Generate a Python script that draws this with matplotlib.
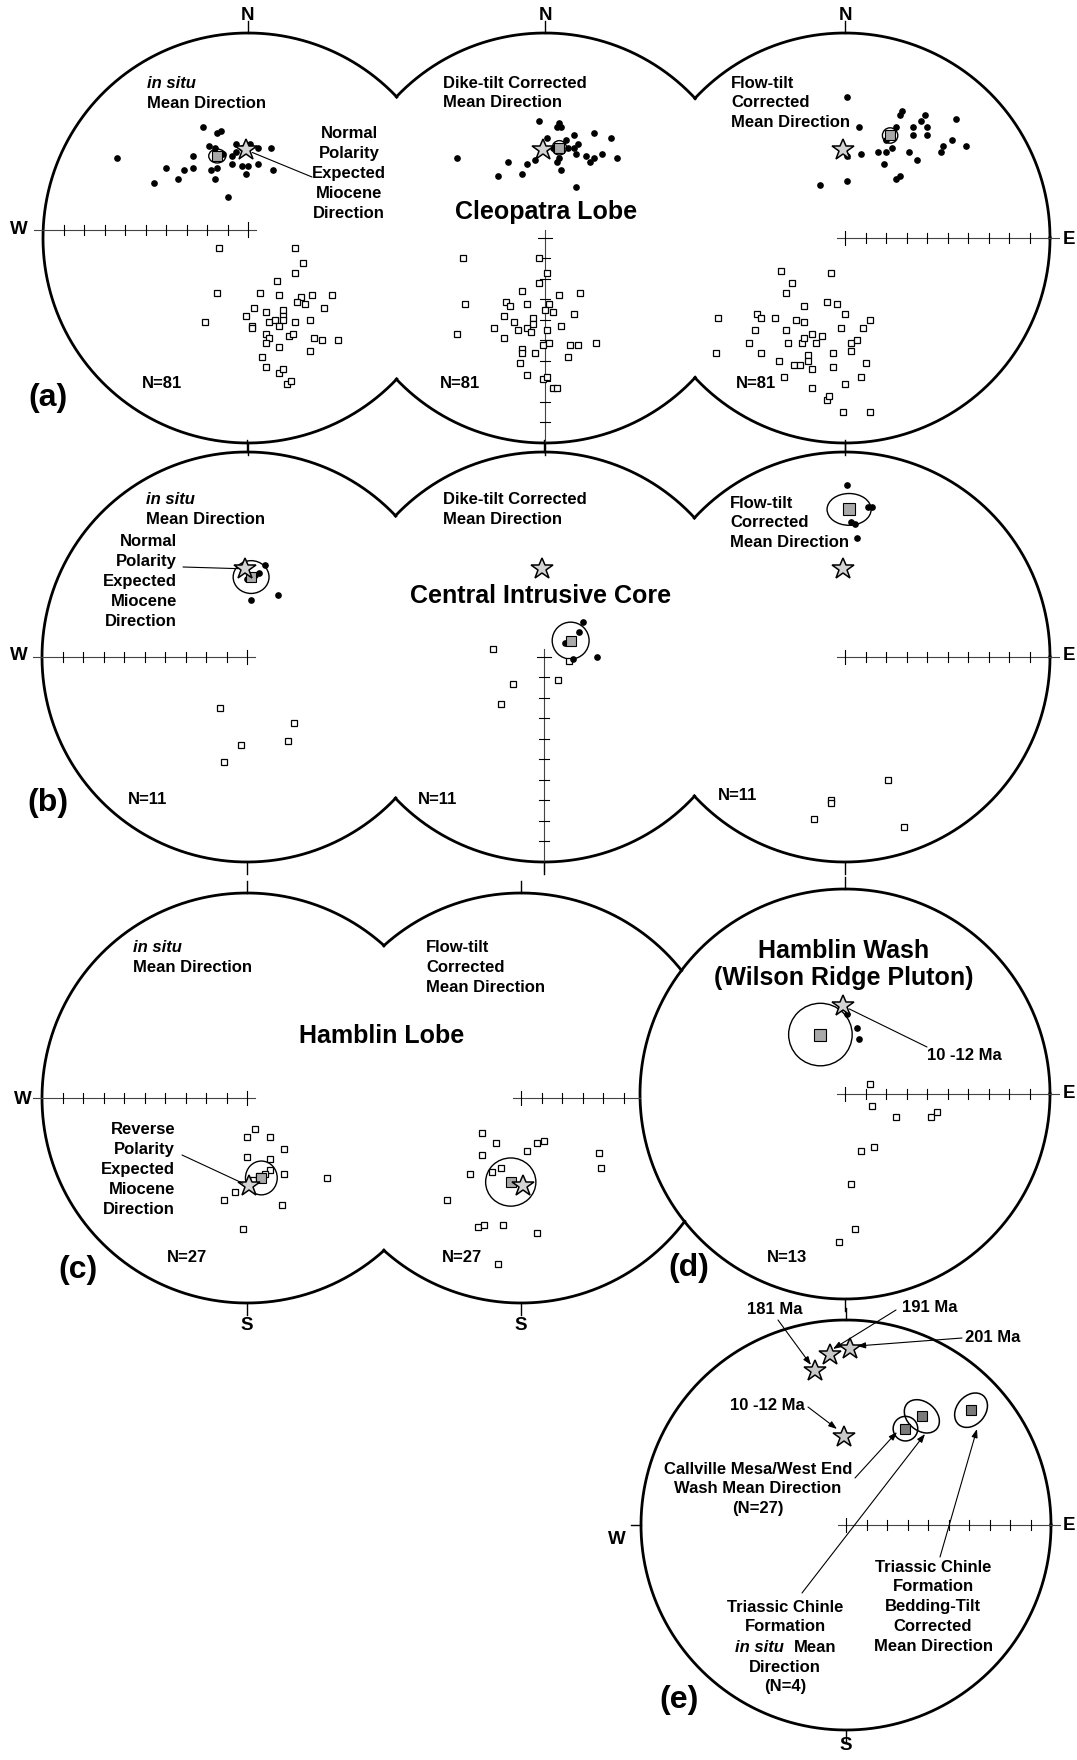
import numpy as np
import matplotlib.pyplot as plt
from matplotlib.patches import Ellipse
from matplotlib.transforms import Affine2D

plt.rcParams['font.family'] = ['Liberation Sans', 'DejaVu Sans']
plt.rcParams['font.weight'] = 'bold'

# directions in equal-area net coordinates (east, north), 1 = primitive circle
# filled dots = lower hemisphere, open squares = upper hemisphere
expected_normal = (-0.01, 0.43)
expected_reverse = (0.01, -0.43)

# (a) Cleopatra Lobe, N=81
a_insitu_lower = [(-0.64, 0.39), (-0.22, 0.54), (-0.15, 0.51), (-0.13, 0.52), (-0.19, 0.45),
                  (-0.16, 0.44), (-0.27, 0.40), (-0.40, 0.34), (-0.27, 0.34), (-0.31, 0.33),
                  (-0.46, 0.27), (-0.34, 0.29), (-0.18, 0.33), (-0.15, 0.34), (-0.16, 0.29),
                  (-0.10, 0.20), (-0.06, 0.46), (-0.03, 0.44), (0.01, 0.46), (0.05, 0.44),
                  (0.11, 0.44), (-0.08, 0.40), (-0.08, 0.36), (-0.03, 0.35), (0.00, 0.35),
                  (-0.01, 0.31), (0.05, 0.36), (0.12, 0.33), (-0.06, 0.42), (-0.12, 0.41)]
a_insitu_upper = [(-0.14, -0.05), (0.23, -0.05), (0.27, -0.12), (0.23, -0.17), (0.14, -0.21),
                  (-0.15, -0.27), (0.06, -0.27), (0.15, -0.28), (0.31, -0.28), (0.41, -0.28),
                  (0.26, -0.29), (0.24, -0.31), (0.28, -0.32), (0.03, -0.34), (0.17, -0.35),
                  (0.37, -0.34), (0.09, -0.36), (-0.01, -0.38), (0.17, -0.38), (-0.21, -0.41),
                  (0.10, -0.41), (0.13, -0.40), (0.17, -0.40), (0.23, -0.41), (0.30, -0.40),
                  (0.15, -0.43), (0.02, -0.43), (0.02, -0.44), (0.09, -0.47), (0.10, -0.49),
                  (0.20, -0.48), (0.22, -0.47), (0.32, -0.49), (0.36, -0.50), (0.44, -0.50),
                  (0.09, -0.51), (0.15, -0.53), (0.30, -0.55), (0.07, -0.58), (0.09, -0.63),
                  (0.15, -0.66), (0.17, -0.64), (0.19, -0.71), (0.21, -0.70)]
a_insitu_mean = (-0.15, 0.40)
a_insitu_a95 = (0.083, 0.068)

a_dike_lower = [(-0.03, 0.57), (0.07, 0.56), (0.06, 0.54), (0.08, 0.54), (-0.43, 0.39),
                (-0.23, 0.30), (-0.18, 0.37), (-0.11, 0.31), (-0.09, 0.36), (-0.05, 0.38),
                (0.01, 0.49), (0.10, 0.48), (0.14, 0.50), (0.24, 0.51), (0.32, 0.49),
                (0.06, 0.37), (0.07, 0.39), (0.08, 0.33), (0.11, 0.44), (0.14, 0.44),
                (0.16, 0.46), (0.15, 0.41), (0.20, 0.40), (0.24, 0.39), (0.22, 0.37),
                (0.28, 0.41), (0.35, 0.39), (0.15, 0.25), (0.04, 0.44)]
a_dike_upper = [(-0.40, -0.10), (-0.03, -0.10), (0.01, -0.17), (-0.03, -0.22), (-0.11, -0.26),
                (0.07, -0.28), (0.17, -0.27), (-0.39, -0.32), (-0.19, -0.31), (-0.17, -0.33),
                (-0.09, -0.32), (0.02, -0.32), (0.00, -0.35), (0.04, -0.36), (0.14, -0.37),
                (-0.20, -0.38), (-0.15, -0.41), (-0.06, -0.39), (-0.06, -0.42), (-0.25, -0.44),
                (-0.13, -0.45), (-0.09, -0.44), (-0.07, -0.46), (0.01, -0.45), (0.08, -0.43),
                (-0.43, -0.47), (-0.20, -0.49), (-0.01, -0.52), (0.02, -0.51), (0.12, -0.52),
                (0.16, -0.52), (0.25, -0.51), (-0.11, -0.54), (-0.11, -0.56), (-0.05, -0.56),
                (0.11, -0.58), (-0.12, -0.61), (-0.09, -0.67), (-0.01, -0.69), (0.01, -0.68),
                (0.04, -0.73), (0.06, -0.73)]
a_dike_mean = (0.07, 0.44)
a_dike_a95 = (0.07, 0.07)

a_flow_lower = [(0.01, 0.69), (0.07, 0.54), (0.28, 0.62), (0.27, 0.60), (0.37, 0.57),
                (0.39, 0.60), (0.40, 0.54), (0.33, 0.54), (0.33, 0.50), (0.40, 0.50),
                (0.54, 0.58), (0.25, 0.54), (0.52, 0.48), (0.48, 0.45), (0.59, 0.45),
                (0.47, 0.42), (0.23, 0.44), (0.20, 0.42), (0.16, 0.42), (0.08, 0.41),
                (0.01, 0.40), (0.31, 0.42), (0.35, 0.38), (0.19, 0.36), (0.25, 0.29),
                (0.27, 0.30), (0.01, 0.28), (-0.12, 0.26), (0.20, 0.48)]
a_flow_upper = [(-0.31, -0.16), (-0.07, -0.17), (-0.26, -0.22), (-0.29, -0.27), (-0.20, -0.33),
                (-0.09, -0.31), (-0.04, -0.32), (0.00, -0.37), (-0.62, -0.39), (-0.43, -0.37),
                (-0.41, -0.39), (-0.34, -0.39), (-0.24, -0.40), (-0.20, -0.41), (0.12, -0.40),
                (-0.44, -0.45), (-0.29, -0.45), (-0.02, -0.44), (0.09, -0.44), (-0.47, -0.51),
                (-0.28, -0.51), (-0.21, -0.51), (-0.20, -0.49), (-0.16, -0.47), (-0.14, -0.51),
                (-0.11, -0.48), (0.03, -0.51), (0.06, -0.50), (-0.63, -0.56), (-0.41, -0.56),
                (-0.18, -0.57), (-0.18, -0.60), (-0.06, -0.56), (0.03, -0.55), (-0.32, -0.60),
                (-0.25, -0.62), (-0.22, -0.62), (-0.16, -0.64), (-0.06, -0.63), (0.10, -0.61),
                (-0.30, -0.68), (0.08, -0.68), (0.00, -0.71), (-0.16, -0.73), (-0.09, -0.79),
                (-0.08, -0.77), (-0.01, -0.85), (0.12, -0.85)]
a_flow_mean = (0.22, 0.50)
a_flow_a95 = (0.075, 0.075)

# (b) Central Intrusive Core, N=11
b_insitu_lower = [(0.09, 0.45), (0.06, 0.41), (0.00, 0.38), (0.02, 0.28), (0.15, 0.30), (0.04, 0.40)]
b_insitu_upper = [(-0.13, -0.25), (0.23, -0.32), (0.20, -0.41), (-0.03, -0.43), (-0.11, -0.51)]
b_insitu_mean = (0.02, 0.39)
b_insitu_a95 = (0.175, 0.16)

b_dike_lower = [(0.19, 0.17), (0.17, 0.12), (0.10, 0.07), (0.14, -0.01), (0.26, 0.00), (0.12, 0.09)]
b_dike_upper = [(-0.25, 0.04), (-0.15, -0.13), (-0.21, -0.23), (0.07, -0.11), (0.12, -0.02)]
b_dike_mean = (0.13, 0.08)
b_dike_a95 = (0.18, 0.18)

b_flow_lower = [(0.01, 0.84), (0.11, 0.73), (0.13, 0.73), (0.03, 0.66), (0.05, 0.65), (0.06, 0.58)]
b_flow_upper = [(0.21, -0.60), (-0.07, -0.70), (-0.07, -0.71), (-0.15, -0.79), (0.29, -0.83)]
b_flow_mean = (0.02, 0.72)
b_flow_a95 = (0.215, 0.155)

# (c) Hamblin Lobe, N=27
c_insitu_upper = [(0.00, -0.19), (0.04, -0.15), (0.11, -0.19), (0.18, -0.25), (0.00, -0.29),
                  (0.11, -0.30), (0.11, -0.35), (0.18, -0.37), (0.03, -0.40), (-0.06, -0.46),
                  (-0.11, -0.50), (0.17, -0.52), (0.39, -0.39), (-0.02, -0.64), (0.06, -0.38),
                  (0.09, -0.37)]
c_insitu_mean = (0.07, -0.39)
c_insitu_a95 = (0.155, 0.165)

c_flow_upper = [(-0.19, -0.17), (-0.12, -0.22), (-0.19, -0.28), (0.03, -0.26), (0.08, -0.22),
                (0.11, -0.21), (0.38, -0.27), (0.39, -0.34), (-0.25, -0.37), (-0.14, -0.36),
                (-0.10, -0.34), (-0.36, -0.50), (-0.21, -0.63), (-0.18, -0.62), (-0.09, -0.62),
                (0.08, -0.66), (-0.11, -0.81)]
c_flow_mean = (-0.05, -0.41)
c_flow_a95 = (0.245, 0.235)

# (d) Hamblin Wash (Wilson Ridge Pluton), N=13
d_lower = [(0.01, 0.39), (0.06, 0.32), (0.07, 0.27)]
d_upper = [(0.12, 0.05), (0.13, -0.06), (0.25, -0.11), (0.42, -0.11), (0.45, -0.09),
           (0.14, -0.26), (0.08, -0.28), (0.03, -0.44), (0.05, -0.66), (-0.03, -0.72)]
d_mean = (-0.12, 0.29)
d_a95 = (0.31, 0.305)

# (e) reference poles and mean directions
e_star_labels = ['181 Ma', '191 Ma', '201 Ma', '10 -12 Ma']
e_stars = [(-0.15, 0.75), (-0.08, 0.83), (0.02, 0.86), (-0.01, 0.43)]
e_means = [(0.29, 0.47), (0.37, 0.53), (0.61, 0.56)]      # Callville, Chinle in situ, Chinle corrected
e_a95 = [(0.12, 0.12, 0), (0.19, 0.14, -40), (0.185, 0.14, 50)]

R = 205
FS = 12
fig = plt.figure(figsize=(10.77, 17.6), dpi=100)
ax = fig.add_axes([0, 0, 1, 1])
ax.set_xlim(0, 1077)
ax.set_ylim(1760, 0)
ax.axis('off')

centers = {'a1': (248, 238), 'a2': (545, 238), 'a3': (845, 238),
           'b1': (247, 657), 'b2': (544, 657), 'b3': (845, 657),
           'c1': (247, 1098), 'c2': (521, 1098), 'd': (845, 1094),
           'e': (846, 1525)}
hidden_by = {'a1': ['a2'], 'a2': ['a1', 'a3'], 'a3': ['a2'],
             'b1': ['b2'], 'b2': ['b1', 'b3'], 'b3': ['b2'],
             'c1': ['c2'], 'c2': ['c1', 'd'], 'd': [], 'e': []}


def net_tr(key):
    cx, cy = centers[key]
    return Affine2D().scale(R, -R).translate(cx, cy) + ax.transData


def outline(key):
    cx, cy = centers[key]
    t = np.linspace(0, 2 * np.pi, 3000)
    x = cx + R * np.cos(t)
    y = cy + R * np.sin(t)
    hide = np.zeros(t.size, bool)
    for o in hidden_by[key]:
        ox, oy = centers[o]
        hide |= np.hypot(x - ox, y - oy) < R - 0.5
    x[hide] = np.nan
    ax.plot(x, y, color='k', lw=2.0)


def half_axis(key, d, length=1.0, off=(0.0, 0.0)):
    tr = net_tr(key)
    dx, dy = d
    px, py = -dy, dx
    ox, oy = off
    end = length + 0.045 if length >= 1 else length
    ax.plot([ox - 0.04 * dx, ox + end * dx], [oy - 0.04 * dy, oy + end * dy],
            color='#444444', lw=0.8, transform=tr)
    for k in range(0, 10):
        s = k / 10
        if s > length:
            break
        h = 0.036 if k == 0 else 0.025
        ax.plot([ox + s * dx - h * px, ox + s * dx + h * px],
                [oy + s * dy - h * py, oy + s * dy + h * py], color='k', lw=0.8, transform=tr)


def ns_ticks(key, west=False):
    tr = net_tr(key)
    ax.plot([0, 0], [1, 1.06], color='k', lw=1.0, transform=tr)
    ax.plot([0, 0], [-1, -1.06], color='k', lw=1.0, transform=tr)
    if west:
        ax.plot([-1, -1.05], [0, 0], color='k', lw=1.0, transform=tr)


def net_data(key, lower=(), upper=(), mean=None, a95=None, star=None, ms_mean=6.5):
    tr = net_tr(key)
    if len(upper):
        u = np.array(upper)
        ax.plot(u[:, 0], u[:, 1], 's', ms=4.2, mfc='white', mec='k', mew=0.9, transform=tr)
    if len(lower):
        lo = np.array(lower)
        ax.plot(lo[:, 0], lo[:, 1], 'o', ms=3.8, color='k', transform=tr)
    if a95 is not None:
        ax.add_patch(Ellipse(mean, a95[0], a95[1], fill=False, lw=1.0, ec='k', transform=tr))
    if mean is not None:
        ax.plot(*mean, 's', ms=ms_mean, mfc='#a9a9a9', mec='k', mew=0.8, transform=tr)
    if star is not None:
        ax.plot(*star, '*', ms=16.5, mfc='#d4d4d4', mec='k', mew=1.1, transform=tr)


def lines(x, y0, rows, ha='left', step=19.8, size=FS, style='normal'):
    for i, r in enumerate(rows):
        ax.text(x, y0 + i * step, r, ha=ha, va='center', fontsize=size, fontstyle=style)


def leader(key, xy, x0, y0, shrink=5):
    ax.annotate('', xy=xy, xycoords=net_tr(key), xytext=(x0, y0), textcoords='data',
                arrowprops=dict(arrowstyle='-', lw=0.8, color='k', shrinkA=0, shrinkB=shrink))


for k in centers:
    outline(k)

# axes with ticks
half_axis('a1', (-1, 0), off=(0, 0.04))
half_axis('a2', (0, -1))
half_axis('a3', (1, 0))
half_axis('b1', (-1, 0))
half_axis('b2', (0, -1))
half_axis('b3', (1, 0))
half_axis('c1', (-1, 0))
half_axis('c2', (1, 0), length=0.58)
half_axis('d', (1, 0))
half_axis('e', (1, 0))
for k in centers:
    ns_ticks(k, west=(k == 'e'))

# data
net_data('a1', a_insitu_lower, a_insitu_upper, a_insitu_mean, a_insitu_a95, expected_normal)
net_data('a2', a_dike_lower, a_dike_upper, a_dike_mean, a_dike_a95, expected_normal)
net_data('a3', a_flow_lower, a_flow_upper, a_flow_mean, a_flow_a95, expected_normal)
net_data('b1', b_insitu_lower, b_insitu_upper, b_insitu_mean, b_insitu_a95, expected_normal, 7)
net_data('b2', b_dike_lower, b_dike_upper, b_dike_mean, b_dike_a95, expected_normal, 7.5)
net_data('b3', b_flow_lower, b_flow_upper, b_flow_mean, b_flow_a95, expected_normal, 8.5)
net_data('c1', (), c_insitu_upper, c_insitu_mean, c_insitu_a95, expected_reverse, 6.5)
net_data('c2', (), c_flow_upper, c_flow_mean, c_flow_a95, expected_reverse, 7.5)
net_data('d', d_lower, d_upper, d_mean, d_a95, expected_normal, 9)

tr_e = net_tr('e')
for (w, h, ang), m in zip(e_a95, e_means):
    ax.add_patch(Ellipse(m, w, h, angle=ang, fill=False, lw=1.1, ec='k', transform=tr_e))
em = np.array(e_means)
ax.plot(em[:, 0], em[:, 1], 's', ms=6.5, mfc='#7a7a7a', mec='k', mew=0.8, transform=tr_e)
es = np.array(e_stars)
ax.plot(es[:, 0], es[:, 1], '*', ms=16.5, mfc='#c8c8c8', mec='k', mew=1.1, transform=tr_e)

# compass letters
for k in ['a1', 'a2', 'a3']:
    ax.text(centers[k][0], 16, 'N', ha='center', va='center', fontsize=13.5)
for y in [230, 656]:
    ax.text(19, y, 'W', ha='center', va='center', fontsize=13.5)
ax.text(23, 1099, 'W', ha='center', va='center', fontsize=13.5)
for y in [240, 656, 1094, 1525]:
    ax.text(1069, y, 'E', ha='center', va='center', fontsize=13.5)
ax.text(617, 1540, 'W', ha='center', va='center', fontsize=13.5)
for x in [247, 521]:
    ax.text(x, 1326, 'S', ha='center', va='center', fontsize=13.5)
ax.text(846, 1746, 'S', ha='center', va='center', fontsize=13.5)

# titles
ax.text(546, 212, 'Cleopatra Lobe', ha='center', va='center', fontsize=18)
ax.text(541, 596, 'Central Intrusive Core', ha='center', va='center', fontsize=18)
ax.text(382, 1036, 'Hamblin Lobe', ha='center', va='center', fontsize=18)
ax.text(844, 951, 'Hamblin Wash', ha='center', va='center', fontsize=18)
ax.text(844, 978, '(Wilson Ridge Pluton)', ha='center', va='center', fontsize=18)

# panel letters
for lab, x, y in [('(a)', 48, 398), ('(b)', 48, 803), ('(c)', 78, 1270),
                  ('(d)', 689, 1268), ('(e)', 679, 1700)]:
    ax.text(x, y, lab, ha='center', va='center', fontsize=23)

# panel annotations
pol = ['Polarity', 'Expected', 'Miocene', 'Direction']
lines(147, 83, ['in situ'], style='italic')
lines(147, 103, ['Mean Direction'])
lines(349, 134, ['Normal'] + pol, ha='center')
leader('a1', expected_normal, 312, 177)
lines(443, 83, ['Dike-tilt Corrected', 'Mean Direction'])
lines(731, 83, ['Flow-tilt', 'Corrected', 'Mean Direction'])
for x in [142, 440, 736]:
    lines(x, 383, ['N=81'])

lines(146, 500, ['in situ'], style='italic')
lines(146, 520, ['Mean Direction'])
lines(177, 542, ['Normal'] + pol, ha='right')
leader('b1', expected_normal, 183, 567)
lines(443, 500, ['Dike-tilt Corrected', 'Mean Direction'])
lines(730, 503, ['Flow-tilt', 'Corrected', 'Mean Direction'])
for x, y in [(128, 799), (418, 799), (718, 796)]:
    lines(x, y, ['N=11'])

lines(133, 947, ['in situ'], style='italic')
lines(133, 967, ['Mean Direction'])
lines(175, 1130, ['Reverse'] + pol, ha='right')
leader('c1', expected_reverse, 182, 1155)
lines(426, 948, ['Flow-tilt', 'Corrected', 'Mean Direction'])
for x in [167, 442]:
    lines(x, 1258, ['N=27'])

lines(927, 1055, ['10 -12 Ma'])
leader('d', expected_normal, 927, 1047)
lines(767, 1257, ['N=13'])

# panel (e) labels and arrows
for lab, x, y in zip(e_star_labels, [747, 902, 965, 730], [1310, 1307, 1337, 1405]):
    lines(x, y, [lab])
arrows = [((778, 1320), (811, 1365)), ((896, 1310), (833, 1349)), ((962, 1338), (857, 1346)),
          ((808, 1407), (837, 1429)), ((855, 1478), (897, 1432)), ((802, 1593), (925, 1434)),
          ((940, 1557), (977, 1429))]
for start, tip in arrows:
    ax.annotate('', xy=tip, xytext=start,
                arrowprops=dict(arrowstyle='-|>,head_length=0.5,head_width=0.18', lw=0.8,
                                color='k', shrinkA=0, shrinkB=0))
lines(758, 1469, ['Callville Mesa/West End', 'Wash Mean Direction', '(N=27)'], ha='center')
lines(785, 1607, ['Triassic Chinle', 'Formation'], ha='center')
ax.text(784, 1647, 'in situ', ha='right', va='center', fontsize=FS, fontstyle='italic')
ax.text(794, 1647, 'Mean', ha='left', va='center', fontsize=FS)
lines(785, 1667, ['Direction', '(N=4)'], ha='center')
lines(933, 1567, ['Triassic Chinle', 'Formation', 'Bedding-Tilt', 'Corrected', 'Mean Direction'],
      ha='center')

fig.savefig('out.png', dpi=100)
